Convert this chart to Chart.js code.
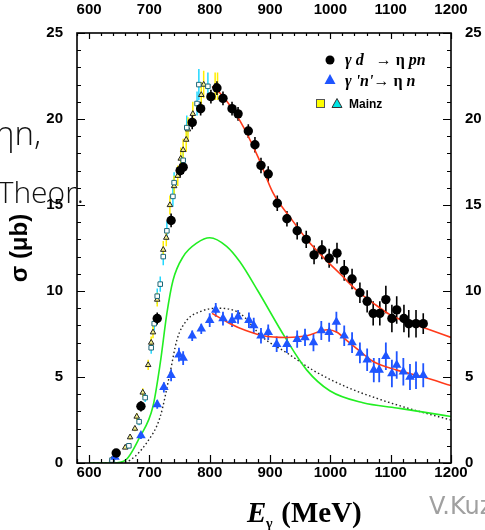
<!DOCTYPE html>
<html>
<head>
<meta charset="utf-8">
<script src="https://cdn.jsdelivr.net/npm/chart.js@4.4.1/dist/chart.umd.min.js"></script>
<style>
  html, body { margin: 0; padding: 0; background: #fff; }
  canvas { display: block; }
</style>
</head>
<body>
<canvas id="c" width="485" height="530"></canvas>
<script>
/* ====== Data ====== */
const xTicks = [600, 700, 800, 900, 1000, 1100, 1200];
const yTicks = [0, 5, 10, 15, 20, 25];

// gamma d -> eta p n
const blackE = [645, 686, 713, 736, 751, 756, 771, 785, 802, 812, 822, 837, 847, 864, 875, 885, 897, 912, 928, 945,
  960, 973, 986, 998, 1011, 1023, 1036, 1049, 1061, 1071, 1082, 1092, 1102, 1110, 1122, 1130, 1142, 1154];
const blackS = [0.58, 3.3, 8.4, 14.1, 17.0, 17.2, 19.8, 20.6, 21.3, 21.8, 21.2, 20.6, 20.3, 19.3, 18.5, 17.3, 16.8, 15.1, 14.2, 13.5,
  13.0, 12.1, 12.4, 11.9, 12.2, 11.2, 10.7, 9.9, 9.4, 8.7, 8.7, 9.5, 8.4, 8.9, 8.4, 8.1, 8.1, 8.1];
const blackErr = [0.2, 0.3, 0.35, 0.4, 0.4, 0.4, 0.4, 0.4, 0.4, 0.4, 0.4, 0.4, 0.4, 0.4, 0.45, 0.45, 0.45, 0.45, 0.45, 0.5,
  0.5, 0.55, 0.55, 0.55, 0.6, 0.6, 0.6, 0.6, 0.65, 0.7, 0.7, 0.8, 0.8, 0.8, 0.8, 0.8, 0.8, 0.6];

// gamma 'n' -> eta n
const blueE = [643, 686, 713, 724, 736, 749, 756, 771, 786, 800, 810, 822, 837, 847, 865, 873, 885, 897, 911, 928,
  945, 958, 972, 985, 998, 1010, 1023, 1036, 1049, 1061, 1072, 1081, 1092, 1102, 1110, 1121, 1132, 1142, 1154];
const blueS = [0.35, 1.6, 3.4, 4.4, 5.1, 6.3, 6.1, 7.4, 7.8, 8.3, 8.9, 8.4, 8.3, 8.5, 8.3, 8.0, 7.4, 7.6, 6.9, 6.9,
  7.2, 7.3, 7.0, 7.7, 7.6, 8.2, 7.4, 7.0, 6.4, 6.0, 5.4, 5.4, 6.2, 5.2, 5.7, 5.3, 5.0, 5.1, 5.1];
const blueErr = [0.15, 0.2, 0.25, 0.3, 0.35, 0.4, 0.4, 0.3, 0.3, 0.4, 0.4, 0.4, 0.4, 0.4, 0.45, 0.45, 0.45, 0.45, 0.45, 0.5,
  0.5, 0.5, 0.5, 0.55, 0.55, 0.6, 0.6, 0.6, 0.6, 0.65, 0.7, 0.7, 0.8, 0.8, 0.8, 0.8, 0.75, 0.8, 0.7];

// Mainz
const mzSqE = [638, 666, 683, 693, 703, 708, 713, 718, 723, 729, 739, 741, 756, 762, 779, 782, 797];
const mzSqS = [0.17, 1.0, 2.4, 3.8, 6.7, 8.1, 9.7, 10.4, 12.0, 13.5, 15.5, 16.3, 17.6, 19.5, 20.9, 22.0, 21.9];
const mzSqErr = [0.1, 0.15, 0.2, 0.25, 0.35, 0.4, 0.45, 0.45, 0.5, 0.55, 0.6, 0.6, 0.65, 0.7, 0.7, 0.9, 0.8];
const mzTrE = [638, 660, 668, 676, 679, 689, 698, 703, 706, 713, 723, 728, 734, 741, 747, 752, 756, 761, 764, 772, 786, 790, 809, 813];
const mzTrS = [0.2, 0.9, 1.5, 2.0, 2.7, 4.1, 5.7, 7.0, 7.6, 9.5, 12.4, 13.1, 15.0, 16.1, 16.7, 17.7, 18.2, 18.8, 19.4, 20.3, 21.4, 22.0, 21.9, 21.9];
const mzTrErr = [0.1, 0.1, 0.15, 0.15, 0.2, 0.25, 0.3, 0.35, 0.35, 0.4, 0.5, 0.5, 0.55, 0.6, 0.6, 0.65, 0.65, 0.7, 0.7, 0.7, 0.75, 0.8, 0.8, 0.8];

// fit curves
const redAE = [804, 820, 850, 880, 905, 935, 961, 990, 1016, 1045, 1071, 1100, 1127, 1160, 1200];
const redAS = [21.9, 21.4, 19.9, 17.8, 15.7, 14.2, 13.0, 11.9, 11.0, 10.0, 9.3, 8.6, 8.2, 7.8, 7.3];
const redBE = [804, 834, 860, 888, 928, 961, 995, 1011, 1028, 1049, 1071, 1110, 1154, 1200];
const redBS = [8.7, 8.1, 7.7, 7.4, 7.3, 7.4, 7.75, 7.6, 7.1, 6.5, 5.9, 5.4, 5.0, 4.5];

// theory curves
const greenE = [600, 640, 660, 684, 706, 718, 729, 739, 756, 779, 800, 828, 850, 880, 925, 961, 999, 1054, 1110, 1165, 1200];
const greenS = [0, 0, 0.15, 1.5, 3.3, 5.8, 8.7, 10.6, 12.0, 12.8, 13.1, 12.6, 11.7, 10.0, 7.3, 5.4, 4.2, 3.5, 3.2, 2.9, 2.7];
const dotE = [600, 650, 668, 696, 718, 734, 746, 762, 784, 812, 850, 888, 928, 971, 1028, 1082, 1137, 1200];
const dotS = [0, 0.02, 0.17, 1.2, 2.7, 5.2, 7.2, 8.3, 8.8, 9.0, 8.7, 7.3, 6.4, 5.4, 4.4, 3.7, 3.1, 2.5];

/* ====== Helpers ====== */
const pts = (xs, ys) => xs.map((x, i) => ({ x, y: ys[i] }));
const TICK_FONT = { family: "'Liberation Sans', Arial, sans-serif", size: 15, weight: "bold" };
const BLUE = "#1f55ff";

function drawRuns(ctx, x, y, runs) {
  runs.forEach(([t, f]) => {
    ctx.font = f;
    ctx.fillText(t, x, y);
    x += ctx.measureText(t).width;
  });
}

/* ====== Error bars ====== */
const errorBars = {
  id: "errorBars",
  beforeDatasetsDraw(chart) {
    const { ctx } = chart;
    const xs = chart.scales.x, ys = chart.scales.y;
    const sets = [
      [mzSqE, mzSqS, mzSqErr, "#22d8ff", 1.5],
      [mzTrE, mzTrS, mzTrErr, "#ffee00", 1.5],
      [blackE, blackS, blackErr, "#000", 1.6],
      [blueE, blueS, blueErr, BLUE, 1.8]
    ];
    ctx.save();
    sets.forEach(([E, S, D, col, w]) => {
      ctx.strokeStyle = col;
      ctx.lineWidth = w;
      ctx.beginPath();
      E.forEach((e, i) => {
        const px = xs.getPixelForValue(e);
        ctx.moveTo(px, ys.getPixelForValue(S[i] - D[i]));
        ctx.lineTo(px, ys.getPixelForValue(S[i] + D[i]));
      });
      ctx.stroke();
    });
    ctx.restore();
  }
};

/* ====== Frame, inner ticks, texts ====== */
const frame = {
  id: "frame",
  afterDatasetsDraw(chart) {
    const { ctx, chartArea: a } = chart;
    const xs = chart.scales.x, ys = chart.scales.y;
    ctx.save();
    ctx.strokeStyle = "#000";
    ctx.lineWidth = 1.2;
    ctx.beginPath();
    for (let v = 580; v <= 1200; v += 20) {
      const px = Math.round(xs.getPixelForValue(v)) + 0.5;
      const major = v % 100 === 0;
      ctx.moveTo(px, a.bottom); ctx.lineTo(px, a.bottom - (major ? 8 : 4));
      ctx.moveTo(px, a.top); ctx.lineTo(px, a.top + (major ? 6 : 3));
    }
    for (let v = 0; v <= 25; v += 1) {
      const py = Math.round(ys.getPixelForValue(v)) + 0.5;
      const major = v % 5 === 0;
      ctx.moveTo(a.left, py); ctx.lineTo(a.left + (major ? 8 : 4), py);
      ctx.moveTo(a.right, py); ctx.lineTo(a.right - (major ? 8 : 4), py);
    }
    ctx.stroke();
    ctx.lineWidth = 1.6;
    ctx.strokeRect(a.left, a.top, a.right - a.left, a.bottom - a.top);
    ctx.restore();
  },
  afterDraw(chart) {
    const { ctx } = chart;
    ctx.save();
    ctx.fillStyle = "#000";
    ctx.textBaseline = "alphabetic";

    // legend
    ctx.beginPath(); ctx.arc(330, 60, 4.5, 0, Math.PI * 2); ctx.fill();
    ctx.fillStyle = BLUE;
    ctx.beginPath(); ctx.moveTo(330, 74); ctx.lineTo(335.5, 84); ctx.lineTo(324.5, 84); ctx.closePath(); ctx.fill();
    ctx.fillStyle = "#000";
    const bi = "bold italic 16px 'Liberation Serif', serif";
    const b = "bold 16px 'Liberation Serif', serif";
    drawRuns(ctx, 345, 65, [["γ ", bi], ["d", bi], ["   → ", b], ["η ", b], ["pn", bi]]);
    drawRuns(ctx, 345, 86, [["γ ", bi], ["'n'", bi], ["→ ", b], ["η ", b], ["n", bi]]);

    ctx.lineWidth = 1;
    ctx.fillStyle = "#ffff00"; ctx.strokeStyle = "#555";
    ctx.fillRect(316, 99, 8, 8); ctx.strokeRect(316.5, 99.5, 8, 8);
    ctx.fillStyle = "#00e5e5"; ctx.strokeStyle = "#333";
    ctx.beginPath(); ctx.moveTo(337, 98.5); ctx.lineTo(342, 107.5); ctx.lineTo(332, 107.5); ctx.closePath(); ctx.fill(); ctx.stroke();
    ctx.fillStyle = "#000";
    ctx.font = "bold 12px 'Liberation Sans', Arial, sans-serif";
    ctx.fillText("Mainz", 349, 108);

    // x axis title
    drawRuns(ctx, 247, 522, [["E", "bold italic 29px 'Liberation Serif', serif"]]);
    ctx.font = "bold 14px 'Liberation Serif', serif";
    ctx.fillText("γ", 266, 528);
    ctx.font = "bold 29px 'Liberation Serif', serif";
    ctx.fillText(" (MeV)", 274, 522);

    // slide overlay texts
    ctx.fillStyle = "#111";
    ctx.font = "300 33px 'Open Sans', 'DejaVu Sans', sans-serif";
    ctx.textAlign = "right";
    ctx.fillText("ηn,", 41, 145);
    ctx.font = "300 30px 'Open Sans', 'DejaVu Sans', sans-serif";
    ctx.fillText("Theor.", 84, 203);
    ctx.textAlign = "left";
    ctx.fillStyle = "#a0a0a0";
    ctx.font = "24px 'DejaVu Sans', sans-serif";
    ctx.fillText("V.Kuz", 429, 514);
    ctx.restore();
  }
};

/* ====== Chart ====== */
const setTicks = list => scale => { scale.ticks = list.map(v => ({ value: v })); };

new Chart(document.getElementById("c"), {
  type: "scatter",
  data: {
    datasets: [
      { data: pts(blackE, blackS), pointStyle: "circle", pointRadius: 4.7, backgroundColor: "#000", borderColor: "#000", borderWidth: 0, order: 1 },
      { data: pts(blueE, blueS), pointStyle: "triangle", pointRadius: 5.5, backgroundColor: BLUE, borderColor: BLUE, borderWidth: 0, order: 1 },
      { data: pts(mzSqE, mzSqS), pointStyle: "rect", pointRadius: 3.2, backgroundColor: "#fff", borderColor: "#1d6676", borderWidth: 1, order: 3 },
      { data: pts(mzTrE, mzTrS), pointStyle: "triangle", pointRadius: 3.2, backgroundColor: "#f4f08a", borderColor: "#222", borderWidth: 1, order: 3 },
      { data: pts(redAE, redAS), showLine: true, pointRadius: 0, borderColor: "#ff3a1a", borderWidth: 1.6, cubicInterpolationMode: "monotone", order: 4 },
      { data: pts(redBE, redBS), showLine: true, pointRadius: 0, borderColor: "#ff3a1a", borderWidth: 1.6, cubicInterpolationMode: "monotone", order: 4 },
      { data: pts(greenE, greenS), showLine: true, pointRadius: 0, borderColor: "#22ee22", borderWidth: 1.6, cubicInterpolationMode: "monotone", order: 5 },
      { data: pts(dotE, dotS), showLine: true, pointRadius: 0, borderColor: "#222", borderWidth: 1.4, borderDash: [1.5, 2.5], cubicInterpolationMode: "monotone", order: 5 }
    ]
  },
  options: {
    responsive: false,
    devicePixelRatio: 1,
    animation: false,
    layout: { padding: 0 },
    plugins: { legend: { display: false }, tooltip: { enabled: false } },
    scales: {
      x: {
        type: "linear", position: "bottom", min: 580, max: 1200,
        afterBuildTicks: setTicks(xTicks),
        afterFit: s => { s.height = 67; },
        grid: { display: false, drawTicks: false }, border: { display: false },
        ticks: { font: TICK_FONT, color: "#000", padding: 1, maxRotation: 0, callback: v => String(v) }
      },
      x2: {
        type: "linear", position: "top", min: 580, max: 1200,
        afterBuildTicks: setTicks(xTicks),
        afterFit: s => { s.height = 33; },
        grid: { display: false, drawTicks: false }, border: { display: false },
        ticks: { font: TICK_FONT, color: "#000", padding: 14, maxRotation: 0, callback: v => String(v) }
      },
      y: {
        type: "linear", position: "left", min: 0, max: 25,
        afterBuildTicks: setTicks(yTicks),
        afterFit: s => { s.width = 77; },
        grid: { display: false, drawTicks: false }, border: { display: false },
        ticks: { font: TICK_FONT, color: "#000", padding: 14, callback: v => String(v) },
        title: { display: true, text: "σ (μb)", color: "#000", padding: { top: 6, bottom: 0 },
          font: { family: "'Liberation Sans', Arial, sans-serif", size: 24, weight: "bold" } }
      },
      y2: {
        type: "linear", position: "right", min: 0, max: 25,
        afterBuildTicks: setTicks(yTicks),
        afterFit: s => { s.width = 34; },
        grid: { display: false, drawTicks: false }, border: { display: false },
        ticks: { font: TICK_FONT, color: "#000", padding: 14, callback: v => String(v) }
      }
    }
  },
  plugins: [errorBars, frame]
});
</script>
</body>
</html>
